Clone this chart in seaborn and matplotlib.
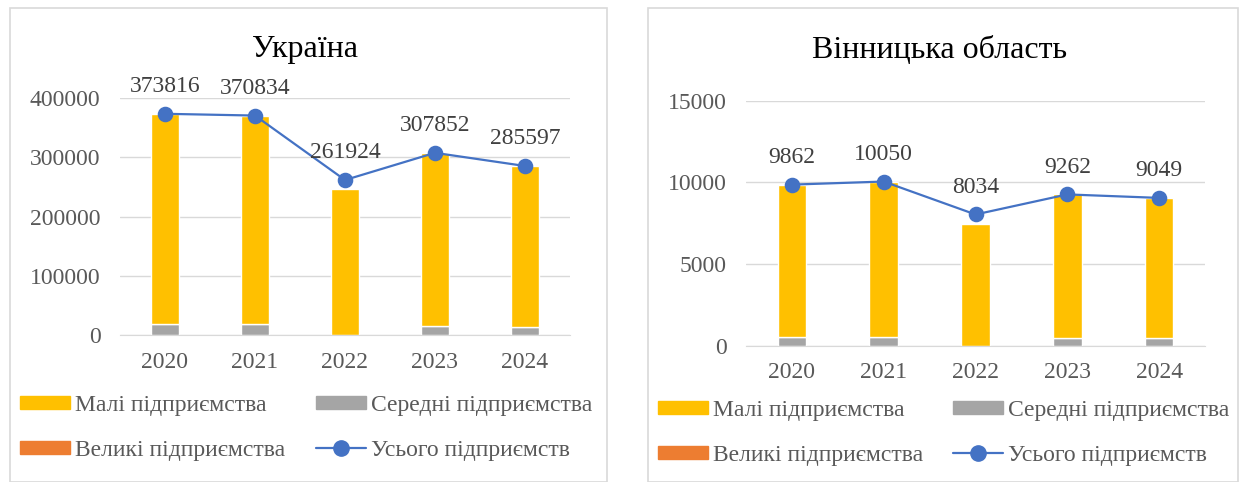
import matplotlib
matplotlib.use("Agg")
import matplotlib.pyplot as plt
from matplotlib.patches import Patch, Rectangle
from matplotlib.lines import Line2D
from matplotlib.ticker import FuncFormatter
import seaborn as sns

years = ["2020", "2021", "2022", "2023", "2024"]

# Україна
ua_small = [355306, 352834, 246700, 293402, 271357]
ua_medium = [18000, 17500, 0, 14000, 13800]
ua_large = [510, 500, 0, 450, 440]
ua_total = [373816, 370834, 261924, 307852, 285597]

# Вінницька область
vn_small = [9320, 9488, 7450, 8761, 8569]
vn_medium = [530, 550, 0, 490, 470]
vn_large = [12, 12, 0, 11, 10]
vn_total = [9862, 10050, 8034, 9262, 9049]

legend_labels = ["Малі підприємства", "Середні підприємства",
                 "Великі підприємства", "Усього підприємств"]

C_SMALL = "#FFC000"
C_MED = "#A5A5A5"
C_LARGE = "#ED7D31"
C_LINE = "#4472C4"
GRID = "#D9D9D9"
TXT = "#595959"
FS = 17

sns.set_style("white")
plt.rcParams["font.family"] = ["Liberation Serif", "DejaVu Serif"]

W, H = 1239, 482
fig = plt.figure(figsize=(W / 100, H / 100), dpi=100)


def px(x0, y0, x1, y1):
    """pixel box -> figure fraction rect"""
    return [x0 / W, 1 - y1 / H, (x1 - x0) / W, (y1 - y0) / H]


def panel(rect, title, title_x, small, medium, large, total, ymax, step,
          legend_x, col2_x, legend_top):
    ax = fig.add_axes(rect)
    sns.barplot(x=years, y=large, color=C_LARGE, width=0.31, errorbar=None,
                ax=ax, saturation=1)
    sns.barplot(x=years, y=medium, color=C_MED, width=0.31, errorbar=None,
                ax=ax, saturation=1, bottom=large)
    base = [a + b for a, b in zip(large, medium)]
    sns.barplot(x=years, y=small, color=C_SMALL, width=0.31, errorbar=None,
                ax=ax, saturation=1, bottom=base)
    sns.pointplot(x=years, y=total, color=C_LINE, markers="o",
                  markersize=10, linewidth=1.6, ax=ax)
    for i, v in enumerate(total):
        ax.annotate(str(v), (i, v), xytext=(0, 12), textcoords="offset points",
                    ha="center", va="bottom", fontsize=FS, color="#404040",
                    annotation_clip=False)

    ax.set_xlim(-0.5, 4.5)
    ax.set_ylim(0, ymax)
    ax.set_yticks(range(0, ymax + 1, step))
    ax.yaxis.set_major_formatter(FuncFormatter(lambda v, p: "%d" % v))
    ax.set_xlabel("")
    ax.set_ylabel("")
    ax.grid(axis="y", color=GRID, linewidth=1)
    ax.set_axisbelow(True)
    for s in ["top", "right", "left"]:
        ax.spines[s].set_visible(False)
    ax.spines["bottom"].set_color(GRID)
    ax.tick_params(axis="both", length=0, labelsize=FS, colors=TXT)
    ax.tick_params(axis="y", pad=14)
    ax.tick_params(axis="x", pad=12)

    fig.text(title_x / W, 1 - 50 / H, title, ha="center", va="center",
             fontsize=23, color="black")

    handles = [Patch(color=C_SMALL), Patch(color=C_MED), Patch(color=C_LARGE),
               Line2D([], [], color=C_LINE, marker="o", markersize=11,
                      linewidth=1.6)]
    for cols, x0 in (([0, 2], legend_x), ([1, 3], col2_x)):
        fig.legend([handles[i] for i in cols], [legend_labels[i] for i in cols],
                   loc="upper left", bbox_to_anchor=(x0 / W, 1 - legend_top / H),
                   frameon=False, fontsize=FS, handlelength=2.1,
                   handleheight=0.5, handletextpad=0.25, labelspacing=1.0,
                   labelcolor=TXT, borderaxespad=0, borderpad=0)
    return ax


# panel frames
fig.add_artist(Rectangle((10 / W, 0), 597 / W, 1 - 8 / H,
                         transform=fig.transFigure, fill=False,
                         edgecolor=GRID, linewidth=1.2))
fig.add_artist(Rectangle((648 / W, 0), 590 / W, 1 - 8 / H,
                         transform=fig.transFigure, fill=False,
                         edgecolor=GRID, linewidth=1.2))

panel(px(120, 98.3, 570, 335), "Україна", 305,
      ua_small, ua_medium, ua_large, ua_total, 400000, 100000, 20, 316, 395)
panel(px(746, 100.7, 1205, 345.7), "Вінницька область", 940,
      vn_small, vn_medium, vn_large, vn_total, 15000, 5000, 658, 953, 400)

fig.savefig("out.png", dpi=100)
